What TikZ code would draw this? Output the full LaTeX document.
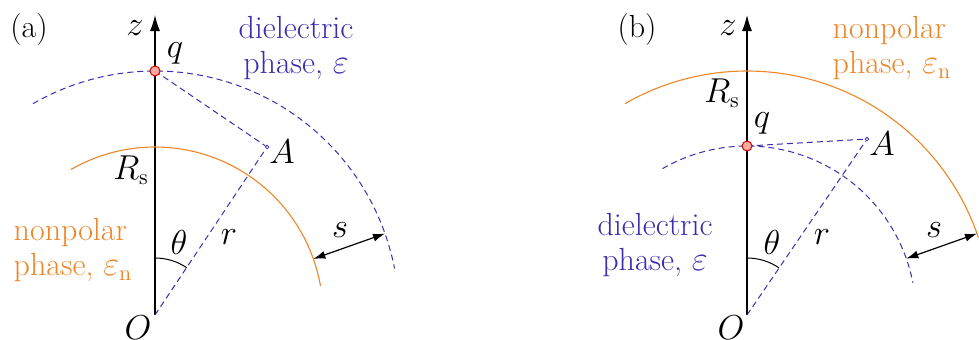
\documentclass[tikz,border=0pt]{standalone}
\usetikzlibrary{arrows.meta}
\definecolor{npolar}{RGB}{238,134,40}
\definecolor{diel}{RGB}{58,45,176}
\definecolor{chargefill}{RGB}{250,170,160}
\begin{document}
\begin{tikzpicture}[x=0.5pt,y=0.5pt,font=\fontsize{16}{17.5}\selectfont,
    axis/.style={line width=0.65pt,-{Latex[length=8pt,width=5pt]}},
    dsh/.style={diel,line width=0.5pt,dash pattern=on 3pt off 2pt},
    orng/.style={npolar,line width=0.55pt},
    charge/.style={circle,draw=red!85!black,line width=0.5pt,inner sep=0pt,minimum size=5pt,fill=chargefill},
    probe/.style={circle,draw=diel,line width=0.4pt,inner sep=0pt,minimum size=1.8pt},
    gap/.style={line width=0.6pt,{Latex[length=6pt,width=4pt]}-{Latex[length=6pt,width=4pt]}}]
    \useasboundingbox (-155,-24) rectangle (824,315);
    % (a)
    \coordinate (Oa) at (0,0);
    \coordinate (za) at (0,300);
    \coordinate (qa) at (0,244);
    \draw[axis] (Oa) -- (za);
    \draw[orng] (120:168) arc[start angle=120,end angle=10,radius=168];
    \draw[dsh] (120:244) arc[start angle=120,end angle=11,radius=244];
    \node[probe] (Aa) at (56.3:202) {};
    \draw[dsh] (qa) -- (Aa);
    \draw[dsh] (Oa) -- (Aa);
    \draw[line width=0.5pt] (90:57) arc[start angle=90,end angle=56.3,radius=57];
    \coordinate (sa1) at (19.5:168);
    \coordinate (sa2) at (19.5:244);
    \draw[gap] (sa1) -- (sa2);
    \node[charge] (qadot) at (qa) {};
    % labels (a)
    \node (laba) at (-126,285) {(a)};
    \node (lza) at (-20,287) {$z$};
    \node (lqa) at (20,262) {$q$};
    \node[diel,align=center] (diela) at (141,267) {dielectric\\phase, $\varepsilon$};
    \node (lRa) at (-24,145) {$R_\mathrm{s}$};
    \node (lAa) at (127,163) {$A$};
    \node (lta) at (24,73) {$\theta$};
    \node (lra) at (74,78) {$r$};
    \node (lsa) at (185,85) {$s$};
    \node[npolar,align=left] (npola) at (-82,65) {nonpolar\\phase, $\varepsilon_\mathrm{n}$};
    \node (lOa) at (-17,-13) {$O$};
    % (b)
    \begin{scope}[shift={(592,0)}]
    \coordinate (Ob) at (0,0);
    \coordinate (zb) at (0,300);
    \coordinate (qb) at (0,169);
    \draw[axis] (Ob) -- (zb);
    \draw[orng] (120:244) arc[start angle=120,end angle=18.5,radius=244];
    \draw[dsh] (120:169) arc[start angle=120,end angle=11,radius=169];
    \node[probe] (Ab) at (55.7:213) {};
    \draw[dsh] (qb) -- (Ab);
    \draw[dsh] (Ob) -- (Ab);
    \draw[line width=0.5pt] (90:57) arc[start angle=90,end angle=55.7,radius=57];
    \coordinate (sb1) at (19.5:169);
    \coordinate (sb2) at (19.5:244);
    \draw[gap] (sb1) -- (sb2);
    \node[charge] (qbdot) at (qb) {};
    % labels (b)
    \node (labb) at (-110,285) {(b)};
    \node (lzb) at (-19,287) {$z$};
    \node (lqb) at (15,192) {$q$};
    \node[npolar,align=left] (npolb) at (145,267) {nonpolar\\phase, $\varepsilon_\mathrm{n}$};
    \node (lRb) at (-25,222) {$R_\mathrm{s}$};
    \node (lAb) at (135,171) {$A$};
    \node[diel,align=center] (dielb) at (-92,70) {dielectric\\phase, $\varepsilon$};
    \node (ltb) at (25,73) {$\theta$};
    \node (lrb) at (75,78) {$r$};
    \node (lsb) at (187,85) {$s$};
    \node (lOb) at (-16,-13) {$O$};
    \end{scope}
\end{tikzpicture}
\end{document}
